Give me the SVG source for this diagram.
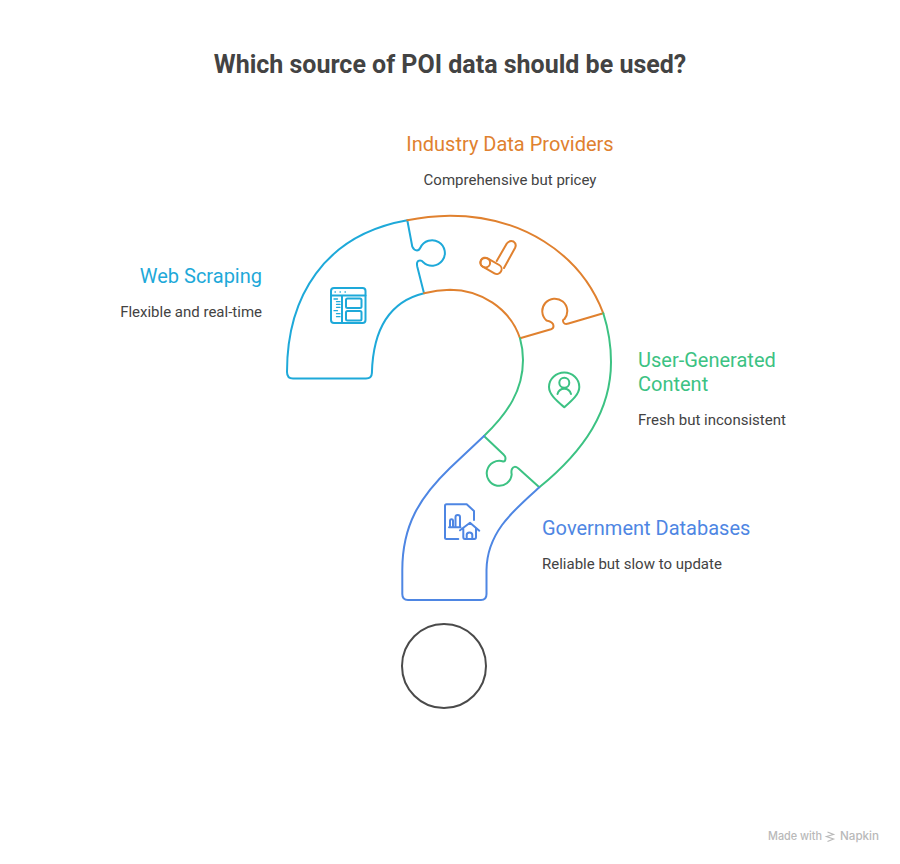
<svg xmlns="http://www.w3.org/2000/svg" width="900" height="864" viewBox="0 0 900 864">
<style>
text{font-family:"Roboto","Liberation Sans",sans-serif}
.t{font-size:25px;font-weight:700;fill:#434343}
.h{font-size:20px;font-weight:400}
.d{font-size:15px;fill:#434343}
.m{font-family:"Inter","Liberation Sans",sans-serif;font-size:11.300px;font-weight:500;fill:#b9b9b9}
.s{fill:none;stroke-width:2;stroke-linecap:round;stroke-linejoin:round}
.w{stroke:#1ea9d9}
.o{stroke:#e0812f}
.g{stroke:#3cc283}
.b{stroke:#4e86e3}
</style>
<rect width="900" height="864" fill="#fff"/>
<text class="t" x="450" y="73" text-anchor="middle">Which source of POI data should be used?</text>
<g id="web-scraping">
<path class="s w" d="M407.300 220.300C324 235 287 297 287 372Q287 378.500 293 378.500H366Q371.700 378.500 371.900 373C373 332 388 302 424 293.300L417.300 266.700Q416 260.500 420 260.500Q422 260.500 423.300 262.300A12.800 12.800 0 1 0 420.500 247.500Q419 250.500 417 250.500Q414 250.500 412.300 246.700Z"/>
<g class="s w"><rect x="331" y="288" width="34.500" height="35" rx="3"/><path d="M331 295.500H365.500M342 295.500V323"/><rect x="346" y="298.500" width="15.500" height="9.500" rx="1.500"/><rect x="346" y="311" width="15.500" height="9.500" rx="1.500"/></g>
<path class="s w" style="stroke-width:1.300" d="M335 292h.4M340 292h.4M345 292h.4M334 299h3.500M336.500 301.700h3.500M336.500 304.400h3.500M336.500 307.300h3.500M334 310.700h3.500M336.500 313.700h3.500M336.500 316.700h3.500"/>
<text class="h" x="262" y="283" text-anchor="end" fill="#1ea9d9">Web Scraping</text>
<text class="d" x="262" y="317" text-anchor="end">Flexible and real-time</text>
</g>
<g id="industry-data-providers">
<path class="s o" d="M407.300 220.300Q428 216 450 215.700C520 215.700 580 252 603.300 313.300L568.500 323.500Q563.500 325 563 321Q562.800 319.500 564.500 319A12.500 12.500 0 1 0 546.500 320.500Q553.500 322 553.500 326Q553.500 328.500 551 329.300L520 338.300C510 308 480 289.700 450 289.700Q437 290 424 293.300"/>
<g class="s o"><path d="M496.700 261L506.800 243.500Q509.500 240 513.500 241.500Q517 244 515 248L504 268"/><rect x="479.500" y="261" width="23" height="9.600" rx="4.800" transform="rotate(30 491 265.800)"/><circle cx="485.300" cy="262.700" r="4.800"/></g>
<text class="h" x="510" y="151" text-anchor="middle" fill="#e0812f">Industry Data Providers</text>
<text class="d" x="510" y="185" text-anchor="middle">Comprehensive but pricey</text>
</g>
<g id="user-generated-content">
<path class="s g" d="M603.300 313.300C608 328 611 345 611 362C611 410 585 450 539.300 487.300L518.500 468.500Q514 465 512 469Q511 471 511.700 474.500A12.500 12.500 0 1 1 503.300 461.500Q505.500 461.500 505.500 458Q505.500 456.500 503.500 454.500L484 436C508 413 523 390 523 360Q523 349 520 338.300"/>
<g class="s g"><path d="M564.300 407.300C557 401 549 394.500 549 387C549 379 556 372.500 564.300 372.500C572.500 372.500 579.300 379 579.300 387C579.300 394.500 571.500 401 564.300 407.300Z"/><circle cx="564.300" cy="382.700" r="5"/><path d="M557.500 394C559.500 387 569 387 571 394"/></g>
<text class="h" x="638" y="367" fill="#3cc283">User-Generated</text>
<text class="h" x="638" y="391" fill="#3cc283">Content</text>
<text class="d" x="638" y="425">Fresh but inconsistent</text>
</g>
<g id="government-databases">
<path class="s b" d="M484 436L450 468C420 497 402.300 525 402.300 570V594Q402.300 600 408 600H481Q486.500 600 486.500 594V570C487 532 514 510 539.300 487.300"/>
<g class="s b"><path d="M458.300 539H446.500Q445 539 445 537.500V505.800Q445 504.300 446.500 504.300H466.700L474 511V520"/><path d="M450 527V520.500Q450 519.300 451.500 519.300Q453 519.300 453 520.500V527M455.500 527V517C455.500 514.300 460 514.300 460 517V527M449 527.300H460.500"/><path d="M460 530.300L470 522.700L479.300 530.700M463.300 528.500V537Q463.300 539 465 539H474.300Q476 539 476 537V528.500"/><path d="M466.700 539V535C466.700 531.500 472.300 531.500 472.300 535V539"/></g>
<text class="h" x="542" y="535" fill="#4e86e3">Government Databases</text>
<text class="d" x="542" y="569">Reliable but slow to update</text>
</g>
<g id="base-circle"><circle cx="444" cy="666" r="42" fill="none" stroke="#4a4a4a" stroke-width="2"/></g>
<g id="connectors"/>
<g id="napkin-mark">
<text class="m" x="768" y="840" textLength="54" lengthAdjust="spacingAndGlyphs">Made with</text>
<path fill="none" stroke="#b9b9b9" stroke-width="1.200" d="M827.500 832L833.500 834.500L826.500 836.500L833.500 839L827.500 841.500"/>
<text class="m" x="840" y="840" textLength="39" lengthAdjust="spacingAndGlyphs">Napkin</text>
</g>
</svg>
